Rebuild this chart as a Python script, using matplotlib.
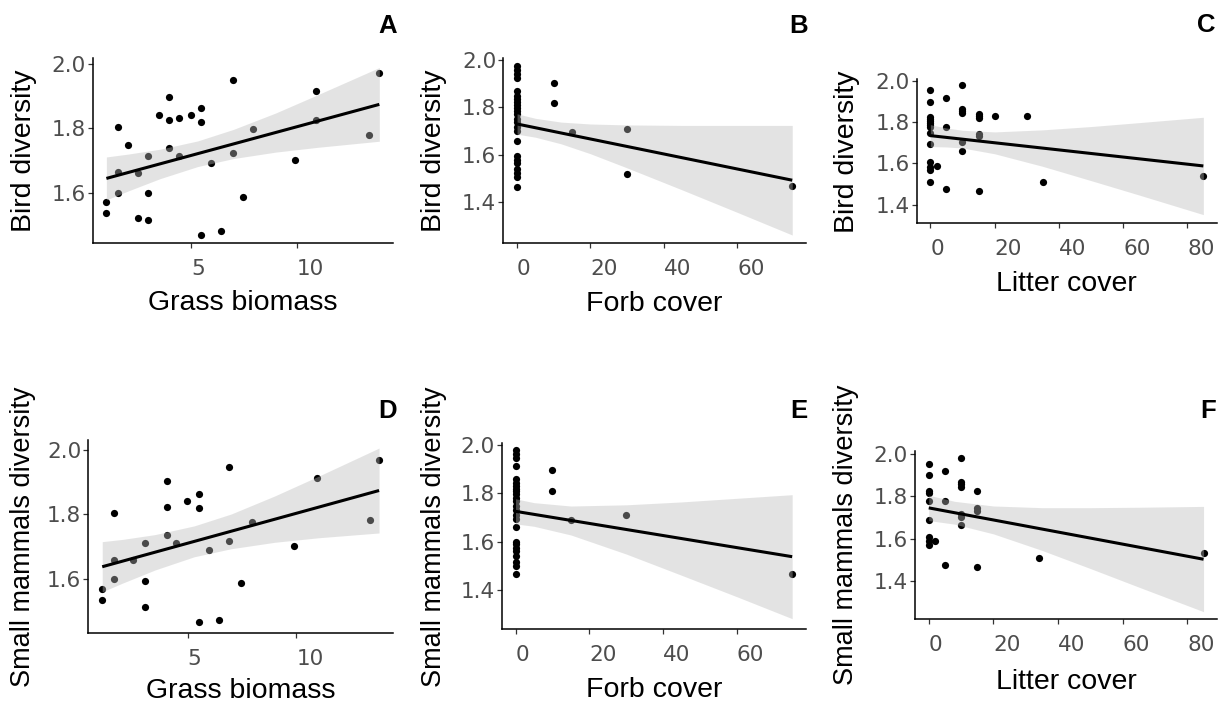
import matplotlib.pyplot as plt

W, H = 1230, 706

plt.rcParams["font.family"] = ["Liberation Sans", "DejaVu Sans"]

# ---- A: bird diversity ~ grass biomass
grass_a = [0.96, 0.96, 1.49, 1.49, 1.49, 1.98, 2.45, 2.45, 2.96, 2.96, 2.96,
           3.47, 3.93, 3.93, 3.93, 4.42, 4.42, 5.00, 5.47, 5.47, 5.47, 5.91,
           6.42, 6.97, 6.97, 7.47, 7.94, 9.91, 10.94, 10.94, 13.46, 13.93]
bird_a = [1.570, 1.536, 1.805, 1.665, 1.599, 1.748, 1.661, 1.519, 1.714, 1.599,
          1.514, 1.842, 1.899, 1.826, 1.740, 1.831, 1.715, 1.842, 1.865, 1.819,
          1.467, 1.691, 1.479, 1.951, 1.722, 1.586, 1.797, 1.703, 1.917, 1.826,
          1.779, 1.974]
fit_a_x = [0.96, 13.93]
fit_a_y = [1.644, 1.875]
band_a_x = [0.96, 2.0, 3.5, 5.3, 7.0, 9.0, 11.0, 13.93]
band_a_lo = [1.577, 1.605, 1.643, 1.681, 1.706, 1.726, 1.741, 1.760]
band_a_hi = [1.711, 1.720, 1.735, 1.761, 1.797, 1.848, 1.905, 1.990]

# ---- B: bird diversity ~ forb cover
forb_b = [0, 0, 0, 0, 0, 0, 0, 0, 0, 0, 0, 0, 0, 0, 0, 0, 0, 0, 0, 0, 0, 0, 0, 0,
          10, 10, 15, 30, 30, 75]
bird_b = [1.976, 1.959, 1.941, 1.923, 1.871, 1.850, 1.836, 1.821, 1.810, 1.798,
          1.787, 1.772, 1.752, 1.737, 1.716, 1.702, 1.660, 1.593, 1.579, 1.565,
          1.541, 1.523, 1.506, 1.464, 1.903, 1.817, 1.698, 1.709, 1.517, 1.468]
fit_b_x = [0, 75]
fit_b_y = [1.730, 1.492]
band_b_x = [0, 5, 12, 20, 30, 45, 60, 75]
band_b_lo = [1.687, 1.674, 1.646, 1.604, 1.544, 1.451, 1.356, 1.260]
band_b_hi = [1.773, 1.754, 1.738, 1.730, 1.726, 1.724, 1.724, 1.724]

# ---- C: bird diversity ~ litter cover
litter_c = [0, 0, 0, 0, 0, 0, 0, 0, 0, 0, 0, 0, 0, 0, 2, 5, 5, 5,
            10, 10, 10, 10, 10, 10, 15, 15, 15, 15, 15, 15, 20, 30, 35, 85]
bird_c = [1.955, 1.900, 1.825, 1.815, 1.805, 1.795, 1.785, 1.778, 1.750, 1.695,
          1.605, 1.585, 1.568, 1.510, 1.588, 1.917, 1.778, 1.476, 1.979, 1.866,
          1.855, 1.845, 1.706, 1.660, 1.840, 1.830, 1.818, 1.743, 1.733, 1.468,
          1.830, 1.830, 1.510, 1.537]
fit_c_x = [0, 85]
fit_c_y = [1.735, 1.588]
band_c_x = [0, 5, 10, 20, 35, 50, 65, 85]
band_c_lo = [1.682, 1.680, 1.675, 1.647, 1.586, 1.517, 1.447, 1.352]
band_c_hi = [1.788, 1.772, 1.761, 1.753, 1.763, 1.779, 1.798, 1.824]

# ---- D: small mammal diversity ~ grass biomass
grass_d = [1.07, 1.07, 1.59, 1.59, 1.59, 2.48, 3.02, 3.02, 3.02, 4.05, 4.05,
           4.05, 4.45, 4.97, 5.51, 5.51, 5.51, 5.98, 6.43, 6.90, 6.90, 7.44,
           7.96, 9.88, 10.93, 13.36, 13.80]
mammal_d = [1.568, 1.534, 1.803, 1.658, 1.598, 1.658, 1.712, 1.593, 1.511, 1.902,
            1.822, 1.736, 1.712, 1.841, 1.862, 1.821, 1.465, 1.689, 1.471, 1.946,
            1.717, 1.585, 1.777, 1.702, 1.913, 1.782, 1.969]
fit_d_x = [1.07, 13.8]
fit_d_y = [1.637, 1.874]
band_d_x = [1.07, 2.0, 3.5, 5.3, 7.0, 9.0, 11.0, 13.8]
band_d_lo = [1.559, 1.586, 1.627, 1.668, 1.693, 1.713, 1.727, 1.742]
band_d_hi = [1.715, 1.722, 1.737, 1.764, 1.801, 1.857, 1.918, 2.006]

# ---- E: small mammal diversity ~ forb cover
forb_e = [0, 0, 0, 0, 0, 0, 0, 0, 0, 0, 0, 0, 0, 0, 0, 0, 0, 0, 0, 0, 0, 0, 0, 0, 0,
          10, 10, 15, 30, 75]
mammal_e = [1.981, 1.963, 1.945, 1.914, 1.862, 1.845, 1.832, 1.820, 1.811, 1.797,
            1.783, 1.770, 1.749, 1.732, 1.710, 1.696, 1.663, 1.600, 1.590, 1.576,
            1.563, 1.542, 1.517, 1.501, 1.466, 1.896, 1.812, 1.690, 1.712, 1.467]
fit_e_x = [0, 75]
fit_e_y = [1.726, 1.538]
band_e_x = [0, 5, 15, 30, 45, 60, 75]
band_e_lo = [1.674, 1.664, 1.628, 1.549, 1.461, 1.372, 1.281]
band_e_hi = [1.778, 1.762, 1.748, 1.753, 1.765, 1.780, 1.795]

# ---- F: small mammal diversity ~ litter cover
litter_f = [0, 0, 0, 0, 0, 0, 0, 0, 0, 2, 5, 5, 5,
            10, 10, 10, 10, 10, 10, 10, 15, 15, 15, 15, 34, 85]
mammal_f = [1.954, 1.902, 1.827, 1.815, 1.776, 1.690, 1.606, 1.590, 1.569, 1.589,
            1.919, 1.779, 1.473, 1.982, 1.866, 1.856, 1.846, 1.714, 1.700, 1.662,
            1.823, 1.745, 1.730, 1.467, 1.509, 1.533]
fit_f_x = [0, 85]
fit_f_y = [1.745, 1.502]
band_f_x = [0, 8, 20, 35, 50, 65, 85]
band_f_lo = [1.685, 1.668, 1.622, 1.544, 1.458, 1.370, 1.254]
band_f_hi = [1.805, 1.776, 1.754, 1.746, 1.746, 1.748, 1.752]

# layout in pixels: axes box (left, top, right, bottom), y-label centre x,
# x-label baseline y, panel letter (right edge x, baseline y)
panels = [
    dict(tag="A", x=grass_a, y=bird_a, fx=fit_a_x, fy=fit_a_y,
         bx=band_a_x, lo=band_a_lo, hi=band_a_hi,
         xlabel="Grass biomass", ylabel="Bird diversity", ylab_size=20.5,
         xlim=(0.31, 14.58), ylim=(1.4416, 2.0197),
         xticks=[5, 10], yticks=[1.6, 1.8, 2.0],
         box=(92.7, 58, 393, 243.3), ylab_x=24, xlab_y=310, letter=(397, 33)),
    dict(tag="B", x=forb_b, y=bird_b, fx=fit_b_x, fy=fit_b_y,
         bx=band_b_x, lo=band_b_lo, hi=band_b_hi,
         xlabel="Forb cover", ylabel="Bird diversity", ylab_size=20.5,
         xlim=(-3.75, 78.75), ylim=(1.225, 2.008),
         xticks=[0, 20, 40, 60], yticks=[1.4, 1.6, 1.8, 2.0],
         box=(503.3, 58.3, 806, 243.3), ylab_x=434, xlab_y=311, letter=(808, 33)),
    dict(tag="C", x=litter_c, y=bird_c, fx=fit_c_x, fy=fit_c_y,
         bx=band_c_x, lo=band_c_lo, hi=band_c_hi,
         xlabel="Litter cover", ylabel="Bird diversity", ylab_size=20.5,
         xlim=(-4.25, 89.25), ylim=(1.31, 2.008),
         xticks=[0, 20, 40, 60, 80], yticks=[1.4, 1.6, 1.8, 2.0],
         box=(916.7, 79.3, 1217, 223.3), ylab_x=847, xlab_y=291, letter=(1215, 32)),
    dict(tag="D", x=grass_d, y=mammal_d, fx=fit_d_x, fy=fit_d_y,
         bx=band_d_x, lo=band_d_lo, hi=band_d_hi,
         xlabel="Grass biomass", ylabel="Small mammals diversity", ylab_size=19.5,
         xlim=(0.43, 14.44), ylim=(1.432, 2.031),
         xticks=[5, 10], yticks=[1.6, 1.8, 2.0],
         box=(88.3, 440, 393, 632.7), ylab_x=23, xlab_y=698, letter=(397, 418)),
    dict(tag="E", x=forb_e, y=mammal_e, fx=fit_e_x, fy=fit_e_y,
         bx=band_e_x, lo=band_e_lo, hi=band_e_hi,
         xlabel="Forb cover", ylabel="Small mammals diversity", ylab_size=19.5,
         xlim=(-3.75, 78.75), ylim=(1.237, 2.008),
         xticks=[0, 20, 40, 60], yticks=[1.4, 1.6, 1.8, 2.0],
         box=(501.7, 443.3, 806, 629.3), ylab_x=434, xlab_y=697, letter=(807, 418)),
    dict(tag="F", x=litter_f, y=mammal_f, fx=fit_f_x, fy=fit_f_y,
         bx=band_f_x, lo=band_f_lo, hi=band_f_hi,
         xlabel="Litter cover", ylabel="Small mammals diversity", ylab_size=19.5,
         xlim=(-4.25, 89.25), ylim=(1.218, 2.014),
         xticks=[0, 20, 40, 60, 80], yticks=[1.4, 1.6, 1.8, 2.0],
         box=(915, 451, 1217.3, 619.3), ylab_x=846, xlab_y=689, letter=(1216, 418)),
]


def draw_panel(fig, p):
    left, top, right, bottom = p["box"]
    ax = fig.add_axes([left / W, 1 - bottom / H, (right - left) / W, (bottom - top) / H])

    # points first, the confidence band goes over them and greys them out
    ax.scatter(p["x"], p["y"], s=27, color="black", linewidths=0, zorder=2)
    ax.fill_between(p["bx"], p["lo"], p["hi"], color="#BBBBBB", alpha=0.4,
                    linewidth=0, zorder=3)
    ax.plot(p["fx"], p["fy"], color="black", linewidth=2.2, zorder=4,
            solid_capstyle="butt")

    ax.set_xlim(*p["xlim"])
    ax.set_ylim(*p["ylim"])
    ax.set_xticks(p["xticks"])
    ax.set_yticks(p["yticks"])
    ax.set_yticklabels([f"{v:.1f}" for v in p["yticks"]])

    for side in ("top", "right"):
        ax.spines[side].set_visible(False)
    for side in ("left", "bottom"):
        ax.spines[side].set_linewidth(1.1)
        ax.spines[side].set_color("black")

    ax.tick_params(axis="both", direction="out", length=3.6, width=0.9,
                   color="#333333", labelsize=15.5, labelcolor="#4D4D4D")
    ax.tick_params(axis="x", pad=8)
    ax.tick_params(axis="y", pad=1.5)
    for lab in ax.get_xticklabels():
        lab.set_ha("left")
        lab.set_fontfamily("DejaVu Sans")
    for lab in ax.get_yticklabels():
        lab.set_fontfamily("DejaVu Sans")

    height = bottom - top
    width = right - left
    ax.set_xlabel(p["xlabel"], fontsize=20.5, color="black")
    ax.xaxis.label.set_va("baseline")
    ax.xaxis.set_label_coords(0.5, (bottom - p["xlab_y"]) / height)

    ax.set_ylabel(p["ylabel"], fontsize=p["ylab_size"], color="black")
    ax.yaxis.label.set_va("center")
    ax.yaxis.set_label_coords((p["ylab_x"] - left) / width, 0.5)

    lx, ly = p["letter"]
    fig.text(lx / W, 1 - ly / H, p["tag"], ha="right", va="baseline",
             fontsize=18.5, fontweight="bold", color="black")
    return ax


fig = plt.figure(figsize=(W / 100, H / 100), dpi=100)
fig.patch.set_facecolor("white")
for p in panels:
    draw_panel(fig, p)

fig.savefig("out.png", dpi=100, facecolor="white")
